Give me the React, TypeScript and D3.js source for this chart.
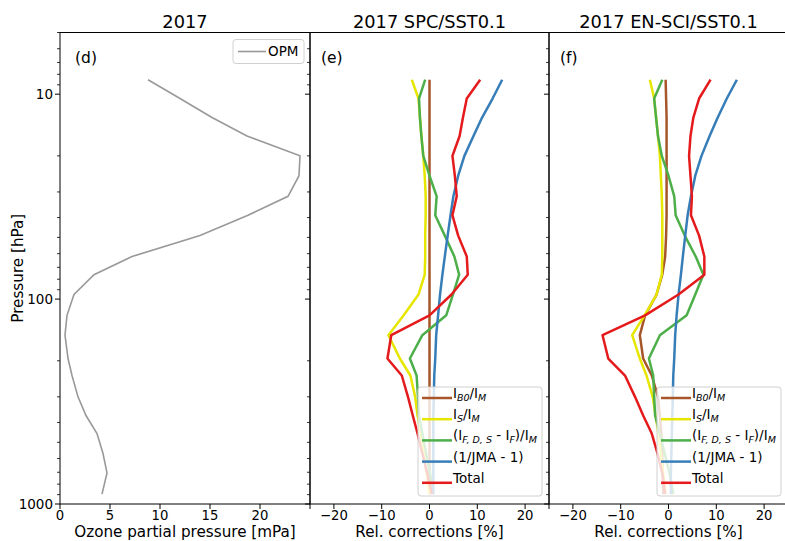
import React from "react";
import * as d3 from "d3";

// Pressure levels [hPa]
const LEVELS_HPA = [8.5, 10.5, 13, 16, 20, 25, 31.5, 39, 49, 62, 76, 95, 120, 150, 195, 236, 300, 370, 453, 567, 705, 895];

// Panel (d): ozone partial pressure [mPa]
const OPM_MPA = [8.8, 12.0, 15.2, 18.7, 24.0, 23.9, 22.8, 18.8, 14.0, 7.2, 3.4, 1.4, 0.7, 0.5, 0.8, 1.2, 1.8, 2.6, 3.7, 4.3, 4.7, 4.2];

// Panel (e): SPC/SST0.1 relative corrections [%]
const SPC_IB0 = [0, 0, 0, 0, 0, 0, 0, 0, 0, 0, 0, 0, 0, 0, 0, 0, 0, 0, 0, 0, 0, 0];
const SPC_IS = [-3.7, -2.3, -2.0, -1.7, -1.3, -1.0, -0.8, -0.8, -0.9, -0.9, -1.0, -2.3, -5.4, -8.6, -6.2, -4.0, -3.0, -2.5, -1.8, -1.2, -0.6, 0.0];
const SPC_IFDS = [-0.9, -2.2, -2.0, -1.7, -1.3, 0.0, 1.5, 1.2, 3.2, 5.2, 6.2, 4.9, 3.5, -1.5, -4.1, -2.7, -2.4, -2.2, -1.5, -0.7, 0.1, 0.8];
const SPC_JMA = [15.2, 13.2, 11.0, 9.2, 7.3, 6.0, 5.0, 4.4, 3.8, 3.2, 2.7, 2.2, 1.8, 1.4, 1.2, 1.0, 0.9, 0.8, 0.8, 0.8, 0.8, 0.8];
const SPC_TOTAL = [10.6, 7.8, 7.0, 6.3, 4.8, 5.3, 5.7, 4.8, 6.0, 7.8, 8.0, 4.6, 0.0, -8.0, -8.8, -5.8, -4.5, -3.5, -2.5, -1.5, -0.5, 0.5];

// Panel (f): EN-SCI/SST0.1 relative corrections [%]
const ENSCI_IB0 = [-0.6, -0.5, -0.4, -0.4, -0.4, -0.4, -0.4, -0.4, -0.5, -0.7, -1.3, -2.5, -4.9, -6.0, -5.3, -3.5, -2.2, -1.8, -1.5, -1.3, -1.2, -1.1];
const ENSCI_IS = [-3.9, -3.0, -2.6, -2.2, -1.8, -1.6, -1.4, -1.3, -1.3, -1.3, -1.4, -2.5, -5.0, -7.6, -6.0, -4.6, -3.3, -2.7, -2.1, -1.6, -1.1, -0.6];
const ENSCI_IFDS = [-1.3, -3.0, -2.6, -2.2, -1.4, 0.0, 1.2, 1.5, 3.4, 5.7, 7.3, 5.6, 3.8, -1.8, -4.1, -3.2, -3.0, -2.8, -1.8, -0.8, 0.2, 1.0];
const ENSCI_JMA = [14.3, 12.2, 10.3, 8.6, 6.9, 5.6, 4.7, 4.0, 3.5, 3.0, 2.6, 2.1, 1.7, 1.4, 1.2, 1.0, 0.9, 0.8, 0.7, 0.6, 0.5, 0.5];
const ENSCI_TOTAL = [8.8, 6.4, 5.2, 4.6, 4.3, 4.6, 4.9, 4.7, 6.4, 7.5, 7.5, 2.1, -4.9, -13.8, -12.6, -9.1, -7.0, -5.3, -3.5, -2.3, -1.3, -0.7];

const OPM_TICKS = [0, 5, 10, 15, 20];
const REL_TICKS = [-20, -10, 0, 10, 20];
const PANEL_TITLES = ["2017", "2017 SPC/SST0.1", "2017 EN-SCI/SST0.1"];
const PANEL_TAGS = ["(d)", "(e)", "(f)"];

type Seg = { t: string; sub?: boolean };
const SERIES_LABELS: Seg[][] = [
  [{ t: "I" }, { t: "B0", sub: true }, { t: "/I" }, { t: "M", sub: true }],
  [{ t: "I" }, { t: "S", sub: true }, { t: "/I" }, { t: "M", sub: true }],
  [{ t: "(I" }, { t: "F, D, S", sub: true }, { t: " - I" }, { t: "F", sub: true }, { t: ")/I" }, { t: "M", sub: true }],
  [{ t: "(1/JMA - 1)" }],
  [{ t: "Total" }],
];
const SERIES_COLORS = ["#a65628", "#e6e600", "#4daf4a", "#377eb8", "#e41a1c"];

const FONT = "DejaVu Sans, sans-serif";
const W = 785;
const H = 541;
const TOP = 32.5;
const BOTTOM = 504;

const y = d3.scaleLog().domain([1000, 5]).range([BOTTOM, TOP]);
const yTicksAll = y.ticks();
const isMajor = (v: number) => Math.abs(Math.log10(v) - Math.round(Math.log10(v))) < 1e-9;

function YTicks({ x0, labels }: { x0: number; labels: boolean }) {
  return (
    <g>
      {yTicksAll.map((v) => {
        const maj = isMajor(v);
        const yy = y(v);
        return (
          <g key={v}>
            <line x1={x0} x2={x0 - (maj ? 5 : 3)} y1={yy} y2={yy} stroke="#000" strokeWidth={maj ? 1 : 0.8} />
            {labels && maj && (
              <text x={x0 - 7} y={yy} dy="0.35em" textAnchor="end" fontSize={13.5} fontFamily={FONT}>
                {v}
              </text>
            )}
          </g>
        );
      })}
    </g>
  );
}

function XTicks({ sx, ticks, extra }: { sx: d3.ScaleLinear<number, number>; ticks: number[]; extra: number[] }) {
  return (
    <g>
      {ticks.map((v) => (
        <g key={v}>
          <line x1={sx(v)} x2={sx(v)} y1={BOTTOM} y2={BOTTOM + 5} stroke="#000" />
          <text x={sx(v)} y={BOTTOM + 16} textAnchor="middle" fontSize={13.2} fontFamily={FONT}>
            {v < 0 ? "\u2212" + Math.abs(v) : v}
          </text>
        </g>
      ))}
      {extra.map((v) => (
        <line key={"e" + v} x1={sx(v)} x2={sx(v)} y1={BOTTOM} y2={BOTTOM + 5} stroke="#000" />
      ))}
    </g>
  );
}

function Legend({ x0, y0 }: { x0: number; y0: number }) {
  const rowH = 21.2;
  return (
    <g>
      <rect x={x0} y={y0} width={124} height={109} rx={3} fill="#fff" fillOpacity={0.8} stroke="#d0d0d0" />
      {SERIES_LABELS.map((segs, i) => {
        const cy = y0 + 11 + i * rowH;
        return (
          <g key={i}>
            <line x1={x0 + 4} x2={x0 + 34} y1={cy} y2={cy} stroke={SERIES_COLORS[i]} strokeWidth={2.5} />
            <text x={x0 + 35} y={cy} dy="0.35em" fontSize={13.5} fontFamily={FONT}>
              {segs.map((s, k) =>
                s.sub ? (
                  <tspan key={k} fontSize={9.5} fontStyle="italic" dy={3}>
                    {s.t}
                  </tspan>
                ) : (
                  <tspan key={k} dy={k > 0 && segs[k - 1].sub ? -3 : 0}>
                    {s.t}
                  </tspan>
                )
              )}
            </text>
          </g>
        );
      })}
    </g>
  );
}

function RelPanel({ x0, x1, data, idx }: { x0: number; x1: number; data: number[][]; idx: number }) {
  const sx = d3.scaleLinear().domain([-25, 25]).range([x0, x1]);
  const line = d3
    .line<number>()
    .x((v) => sx(v))
    .y((_, i) => y(LEVELS_HPA[i]));
  return (
    <g>
      {data.map((s, i) => (
        <path key={i} d={line(s) || ""} fill="none" stroke={SERIES_COLORS[i]} strokeWidth={2.5} strokeLinejoin="round" />
      ))}
      <Legend x0={sx(-2.4)} y0={387} />
      <rect x={x0} y={TOP} width={x1 - x0} height={BOTTOM - TOP} fill="none" stroke="#000" strokeWidth={1} />
      <YTicks x0={x0} labels={false} />
      <XTicks sx={sx} ticks={REL_TICKS} extra={[25]} />
      <text x={(x0 + x1) / 2} y={27.5} textAnchor="middle" fontSize={17.8} fontFamily={FONT}>
        {PANEL_TITLES[idx]}
      </text>
      <text x={x0 + 11} y={63} fontSize={15.5} fontFamily={FONT}>
        {PANEL_TAGS[idx]}
      </text>
      <text x={(x0 + x1) / 2} y={537.3} textAnchor="middle" fontSize={15.2} fontFamily={FONT}>
        Rel. corrections [%]
      </text>
    </g>
  );
}

export default function App() {
  const sxD = d3.scaleLinear().domain([0, 25]).range([60, 310]);
  const opmLine = d3
    .line<number>()
    .x((v) => sxD(v))
    .y((_, i) => y(LEVELS_HPA[i]));
  return (
    <svg width={W} height={H} style={{ position: "absolute", left: 0, top: 0, background: "#fff" }}>
      <rect x={0} y={0} width={W} height={H} fill="#fff" />
      {/* Panel d */}
      <g>
        <path d={opmLine(OPM_MPA) || ""} fill="none" stroke="#999" strokeWidth={1.6} />
        <rect x={60} y={TOP} width={250} height={BOTTOM - TOP} fill="none" stroke="#000" />
        <YTicks x0={60} labels={true} />
        <XTicks sx={sxD} ticks={OPM_TICKS} extra={[25]} />
        <text x={185} y={27.5} textAnchor="middle" fontSize={17.8} fontFamily={FONT}>
          {PANEL_TITLES[0]}
        </text>
        <text x={75} y={63} fontSize={15.5} fontFamily={FONT}>
          {PANEL_TAGS[0]}
        </text>
        <text x={185} y={537.3} textAnchor="middle" fontSize={15.2} fontFamily={FONT}>
          Ozone partial pressure [mPa]
        </text>
        <text transform={`translate(23,${(TOP + BOTTOM) / 2}) rotate(-90)`} textAnchor="middle" fontSize={15.2} fontFamily={FONT}>
          Pressure [hPa]
        </text>
        <rect x={233} y={39.5} width={71} height={24} rx={3} fill="#fff" fillOpacity={0.8} stroke="#d0d0d0" />
        <line x1={238} x2={266} y1={51.5} y2={51.5} stroke="#999" strokeWidth={1.6} />
        <text x={268} y={51.5} dy="0.35em" fontSize={13.5} fontFamily={FONT}>
          OPM
        </text>
      </g>
      <RelPanel x0={310} x1={549} idx={1} data={[SPC_IB0, SPC_IS, SPC_IFDS, SPC_JMA, SPC_TOTAL]} />
      <RelPanel x0={549} x1={788} idx={2} data={[ENSCI_IB0, ENSCI_IS, ENSCI_IFDS, ENSCI_JMA, ENSCI_TOTAL]} />
    </svg>
  );
}
